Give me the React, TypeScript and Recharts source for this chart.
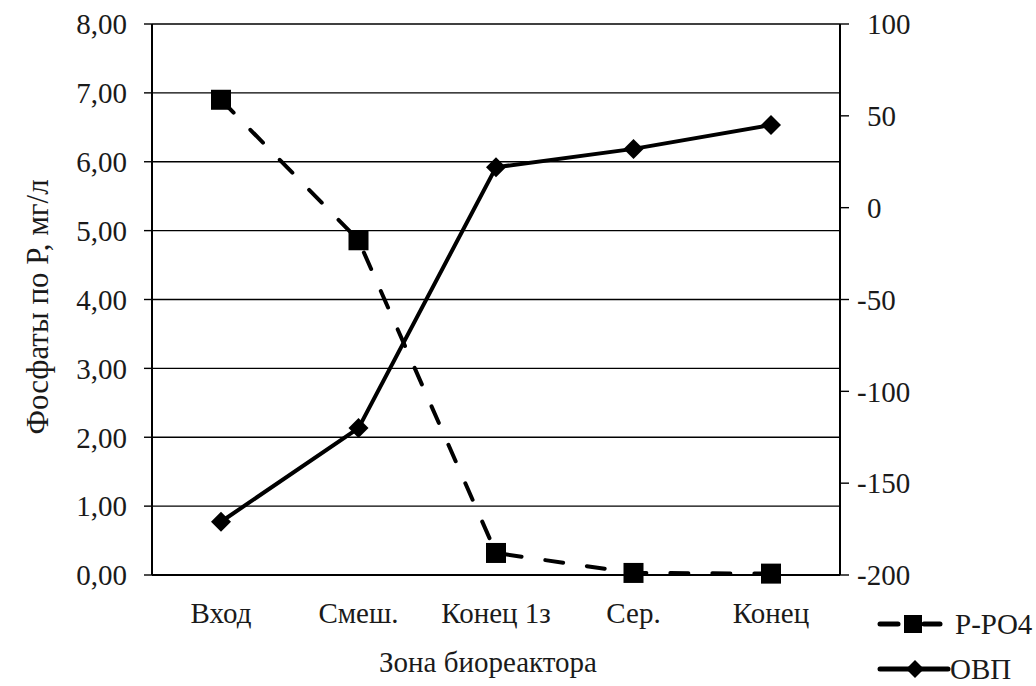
import { LineChart, Line, XAxis, YAxis, CartesianGrid, Label } from 'recharts'

const ZONES = ['Вход', 'Смеш.', 'Конец 1з', 'Сер.', 'Конец']
const P_PO4 = [6.9, 4.86, 0.32, 0.03, 0.02]
const OVP = [-171, -120, 22, 32, 45]
const LEFT_TICKS = [0, 1, 2, 3, 4, 5, 6, 7, 8]
const RIGHT_TICKS = [-200, -150, -100, -50, 0, 50, 100]

const data = ZONES.map((zone, i) => ({ zone, p: P_PO4[i], ovp: OVP[i] }))

const FONT = '"Liberation Serif", "Times New Roman", serif'
const INK = '#1a1a1a'
const tickStyle = { fill: INK, fontSize: 29, fontFamily: FONT }

const SquareDot = (props: any) => {
  const { cx, cy, index } = props
  return <rect key={'sq' + index} x={cx - 10} y={cy - 10} width={20} height={20} fill="#000" />
}

const DiamondDot = (props: any) => {
  const { cx, cy, index } = props
  return (
    <polygon
      key={'dm' + index}
      points={`${cx},${cy - 10} ${cx + 10},${cy} ${cx},${cy + 10} ${cx - 10},${cy}`}
      fill="#000"
    />
  )
}

const RightTick = (props: any) => {
  const { x, y, payload } = props
  const v = payload.value
  return (
    <text x={v < 0 ? x - 10 : x} y={y} dy="0.355em" textAnchor="start" {...tickStyle}>
      {v}
    </text>
  )
}

const YTitle = () => (
  <text
    x={37}
    y={307}
    transform="rotate(-90 37 307)"
    textAnchor="middle"
    dominantBaseline="central"
    fill={INK}
    fontSize={31}
    fontFamily={FONT}
  >
    Фосфаты по Р, мг/л
  </text>
)

function LegendBox() {
  return (
    <svg
      width={196}
      height={90}
      style={{ position: 'absolute', left: 840, top: 594 }}
    >
      <line x1={40} y1={30} x2={58} y2={30} stroke="#000" strokeWidth={5} strokeLinecap="round" />
      <rect x={64} y={21} width={18} height={18} fill="#000" />
      <line x1={84} y1={30} x2={100} y2={30} stroke="#000" strokeWidth={5} strokeLinecap="round" />
      <text x={115} y={30} dy="0.355em" fill={INK} fontSize={29} fontFamily={FONT}>
        P-PO4
      </text>
      <line x1={40} y1={75} x2={108} y2={75} stroke="#000" strokeWidth={5} strokeLinecap="round" />
      <polygon points="75,66 84,75 75,84 66,75" fill="#000" />
      <text x={110} y={75} dy="0.355em" fill={INK} fontSize={29} fontFamily={FONT}>
        ОВП
      </text>
    </svg>
  )
}

export default function App() {
  return (
    <div style={{ position: 'relative', width: 1036, height: 686, background: '#fff' }}>
      <style>{'body{margin:0}'}</style>
      <LineChart
        width={1036}
        height={686}
        data={data}
        margin={{ top: 24, right: 0, bottom: 0, left: 0 }}
      >
        <CartesianGrid
          yAxisId="left"
          vertical={false}
          stroke="#000"
          strokeWidth={1.4}
          strokeOpacity={1}
        />
        <XAxis
          dataKey="zone"
          height={111}
          padding={{ left: 69, right: 69 }}
          tickLine={false}
          tickSize={0}
          tickMargin={27}
          axisLine={{ stroke: '#000', strokeWidth: 2 }}
          tick={tickStyle}
          interval={0}
        >
          <Label
            value="Зона биореактора"
            position="insideBottom"
            offset={14}
            dx={-8}
            fill={INK}
            fontSize={29}
            fontFamily={FONT}
          />
        </XAxis>
        <YAxis
          yAxisId="left"
          width={152}
          domain={[0, 8]}
          ticks={LEFT_TICKS}
          interval={0}
          tickFormatter={(v: number) => v.toFixed(2).replace('.', ',')}
          tickSize={8}
          tickMargin={17}
          tickLine={{ stroke: '#000', strokeWidth: 1.4 }}
          axisLine={{ stroke: '#000', strokeWidth: 2 }}
          tick={tickStyle}
        >
          <Label content={<YTitle />} />
        </YAxis>
        <YAxis
          yAxisId="right"
          orientation="right"
          width={196}
          domain={[-200, 100]}
          ticks={RIGHT_TICKS}
          interval={0}
          tickSize={9}
          tickMargin={18}
          tickLine={{ stroke: '#000', strokeWidth: 1.4 }}
          axisLine={{ stroke: '#000', strokeWidth: 2 }}
          tick={<RightTick />}
        />
        <Line
          yAxisId="left"
          dataKey="p"
          stroke="#000"
          strokeWidth={4}
          strokeDasharray="18 24"
          strokeLinecap="round"
          dot={SquareDot}
          activeDot={false}
          isAnimationActive={false}
        />
        <Line
          yAxisId="right"
          dataKey="ovp"
          stroke="#000"
          strokeWidth={4}
          dot={DiamondDot}
          activeDot={false}
          isAnimationActive={false}
        />
      </LineChart>
      <LegendBox />
    </div>
  )
}
